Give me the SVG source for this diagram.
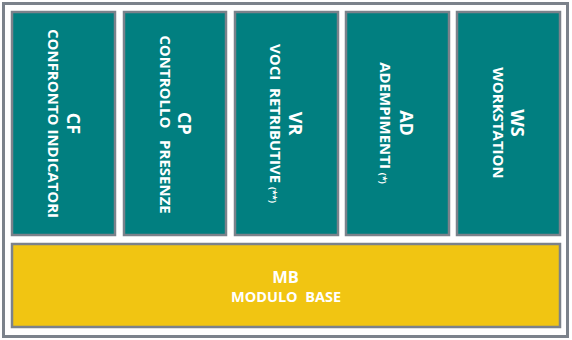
<svg xmlns="http://www.w3.org/2000/svg" width="572" height="340" viewBox="0 0 572 340">
<style>
.frame{fill:#ffffff;stroke:#7b828b;stroke-width:3}
.mod{fill:#017f80;stroke:#7b828b;stroke-width:2.5}
.base{fill:#f1c512;stroke:#7b828b;stroke-width:2.5}
text{font-family:"Open Sans","Liberation Sans",sans-serif;font-weight:bold;fill:#ffffff;text-anchor:middle;white-space:pre}
.t{font-size:18px}
.s{font-size:15px}
.x{font-size:9px}
.mt{font-size:16.5px}
.ms{font-size:14.5px}
</style>
<rect class="frame" x="3.5" y="3.5" width="564" height="333"/>
<g id="CF">
<rect class="mod" x="12" y="12" width="103" height="223"/>
<g transform="translate(66.5,123.5) rotate(90)"><text class="t" x="0" y="0">CF</text></g>
<g transform="translate(48,123.5) rotate(90)"><text class="s" x="0" y="0">CONFRONTO INDICATORI</text></g>
</g>
<g id="CP">
<rect class="mod" x="124" y="12" width="102" height="223"/>
<g transform="translate(177.5,123.5) rotate(90)"><text class="t" x="0" y="0">CP</text></g>
<g transform="translate(159.5,124.5) rotate(90)"><text class="s" x="0" y="0">CONTROLLO   PRESENZE</text></g>
</g>
<g id="VR">
<rect class="mod" x="235" y="12" width="103" height="223"/>
<g transform="translate(288.5,123.5) rotate(90)"><text class="t" x="0" y="0">VR</text></g>
<g transform="translate(270,123.5) rotate(90)"><text class="s" x="0" y="0">VOCI  RETRIBUTIVE <tspan class="x">(**)</tspan></text></g>
</g>
<g id="AD">
<rect class="mod" x="346" y="12" width="103" height="223"/>
<g transform="translate(399.5,123) rotate(90)"><text class="t" x="0" y="0">AD</text></g>
<g transform="translate(380,123) rotate(90)"><text class="s" x="0" y="0">ADEMPIMENTI <tspan class="x">(*)</tspan></text></g>
</g>
<g id="WS">
<rect class="mod" x="457" y="12" width="103" height="223"/>
<g transform="translate(511,123) rotate(90)"><text class="t" x="0" y="0">WS</text></g>
<g transform="translate(493,123) rotate(90)"><text class="s" x="0" y="0">WORKSTATION</text></g>
</g>
<g id="MB">
<rect class="base" x="12" y="244" width="548" height="83"/>
<text class="mt" x="285.5" y="282.5">MB</text>
<text class="ms" x="286" y="301.5">MODULO  BASE</text>
</g>
<g id="connectors"></g>
</svg>
